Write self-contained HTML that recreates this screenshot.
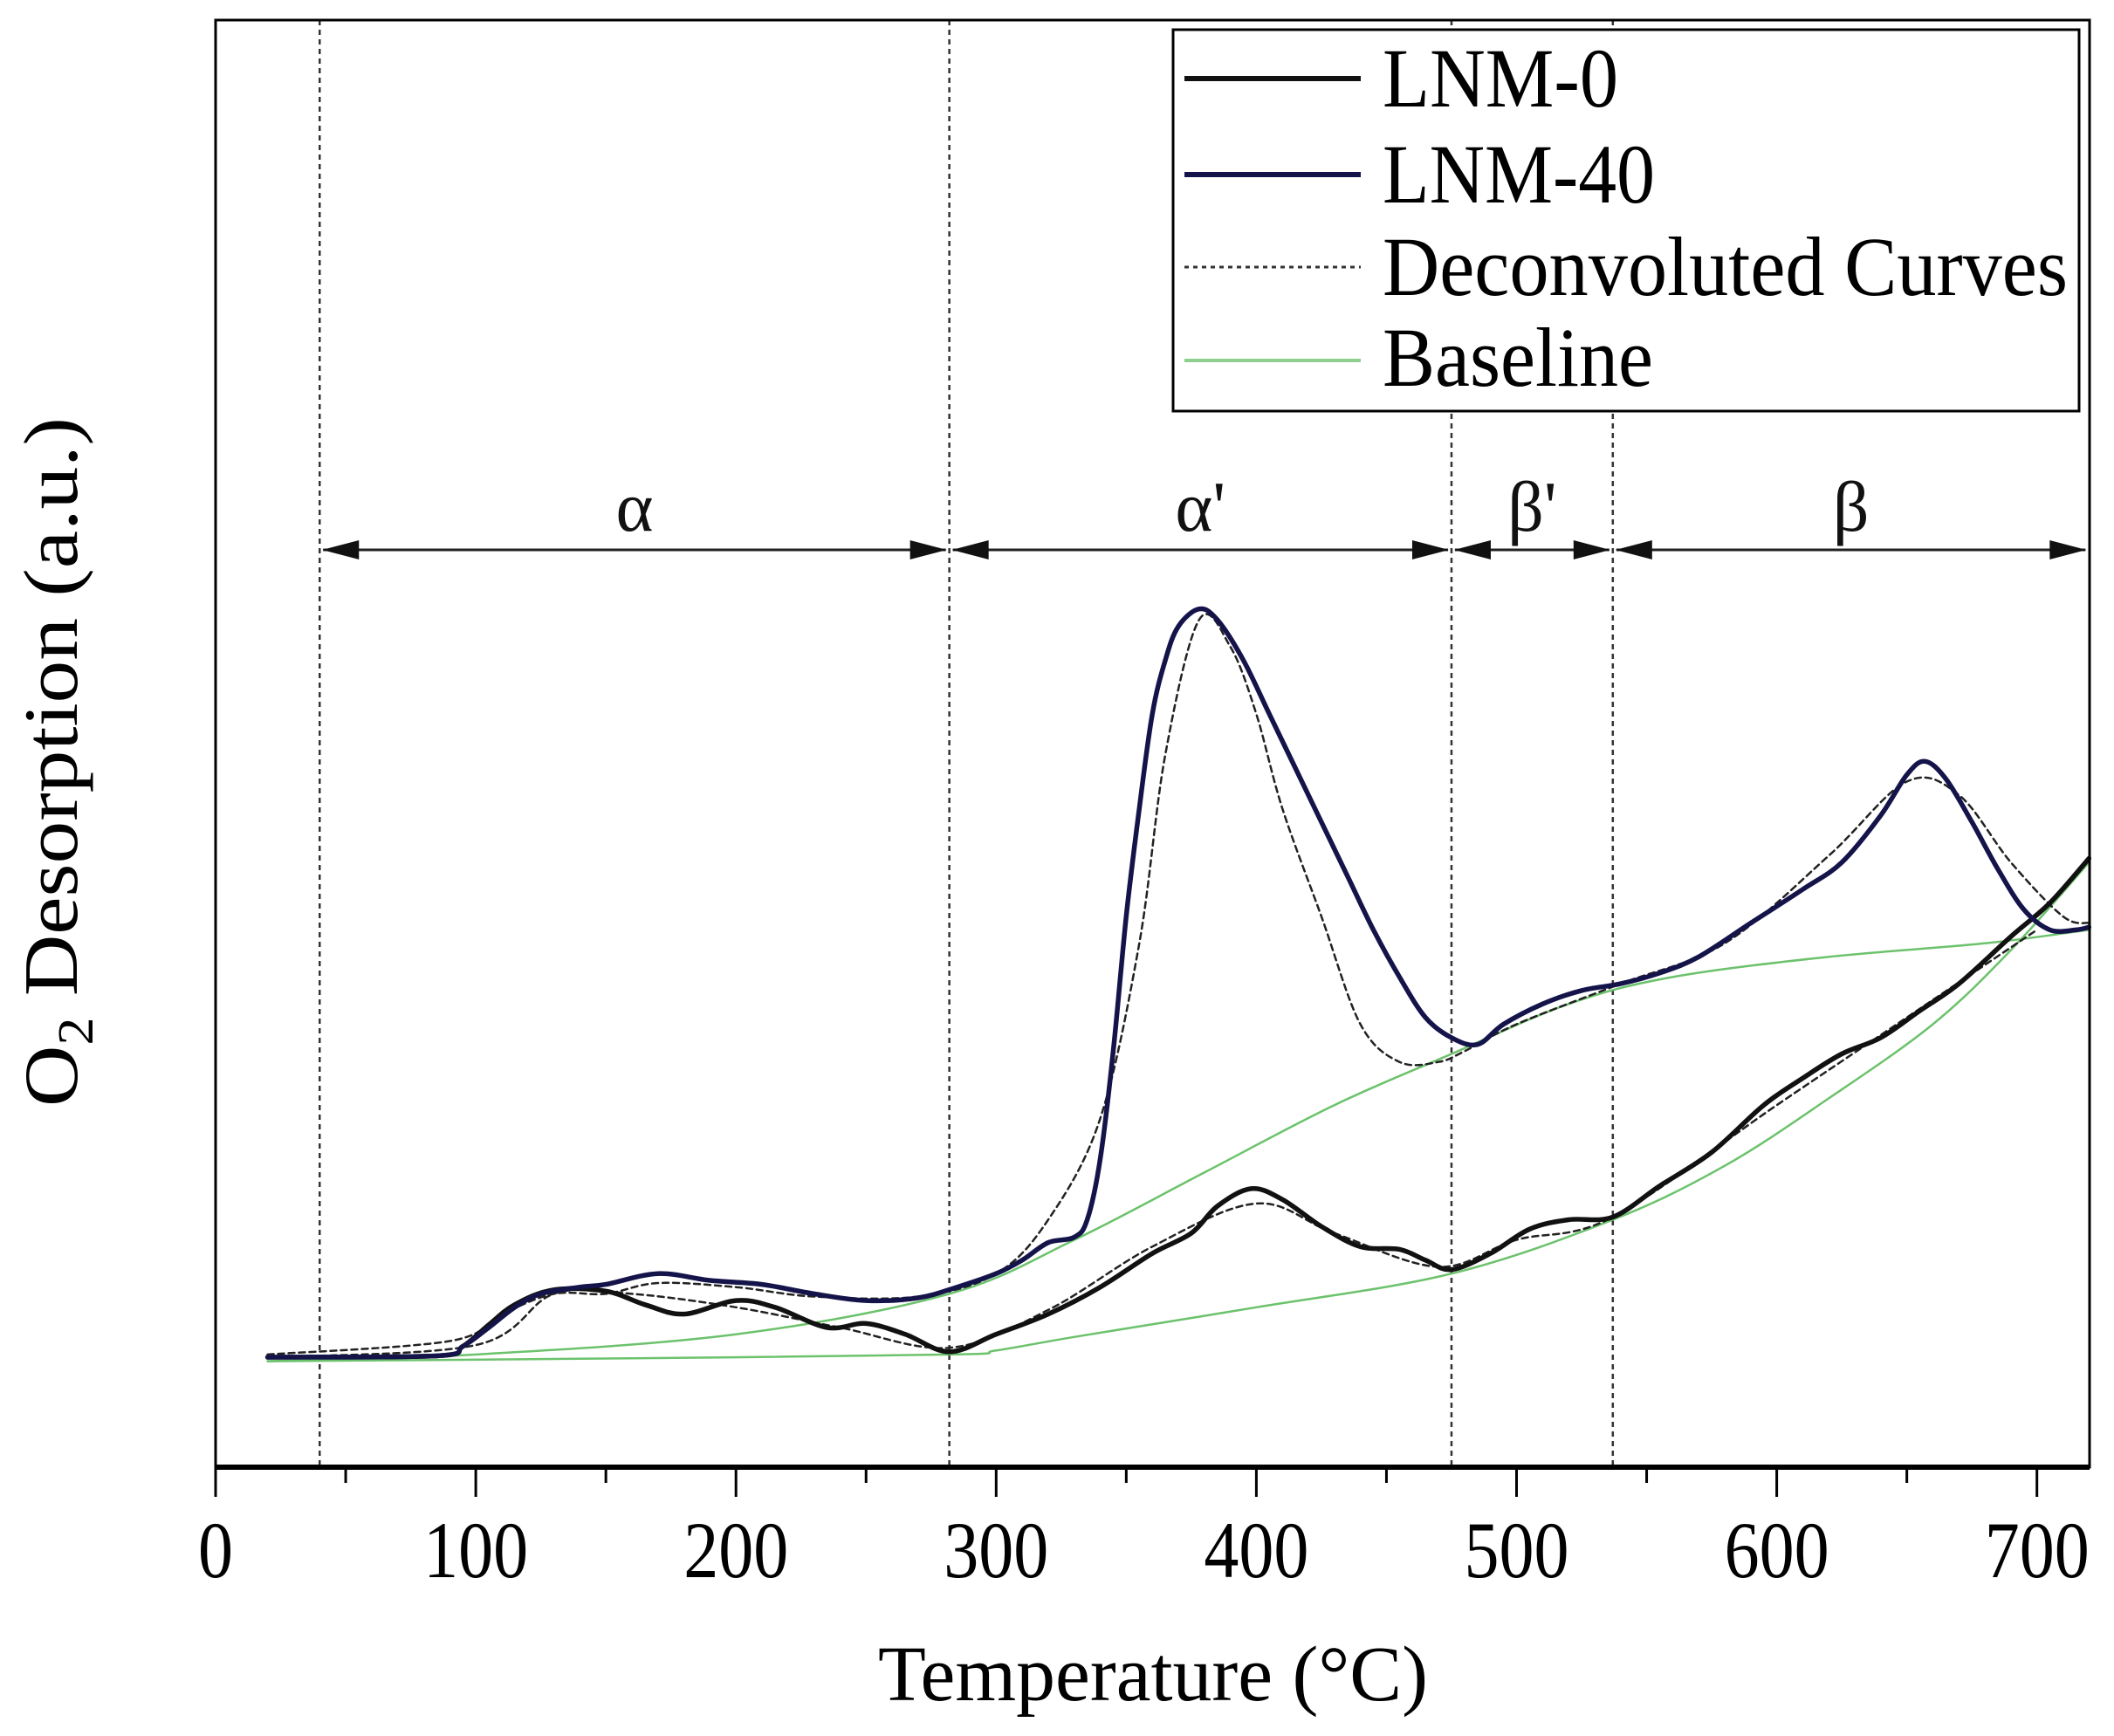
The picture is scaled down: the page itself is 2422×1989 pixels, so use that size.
<!DOCTYPE html>
<html><head><meta charset="utf-8"><style>
html,body{margin:0;padding:0;background:#fff;}
svg{display:block;font-family:"Liberation Serif",serif;}
</style></head><body>
<svg id="chart" width="2422" height="1989" viewBox="0 0 2422 1989" xmlns="http://www.w3.org/2000/svg">
<g id="grid"></g>
<g id="series"></g>
<g id="axes"></g>
<g id="legend"></g>
</svg>
<script>
// ---- data (temperature °C, intensity a.u.) ----
const lnm40T = [20,85,95,105,115,125,140,150,170,190,210,230,250,270,285,300,310,320,330,335,340,345,350,355,360,365,370,378,385,395,405,415,425,435,445,455,465,475,485,495,510,525,540,555,570,590,610,625,640,650,657,665,675,685,695,705,715,720];
const lnm40V = [0,1,8,22,37,47,52,54,62,57,54,47,42,44,52,62,72,85,89,102,147,227,327,407,477,517,542,555,547,517,477,437,397,357,317,282,252,237,232,247,262,272,277,285,297,322,347,367,402,432,442,429,397,362,332,317,317,319];
const lnm0T = [20,85,95,105,115,130,150,165,180,200,215,235,250,265,282,300,320,340,360,375,385,398,410,425,440,455,465,475,490,505,520,537,555,575,595,610,625,640,655,670,690,705,720];
const lnm0V = [0,1,8,24,39,50,49,39,32,42,37,22,25,17,4,17,32,52,77,92,112,125,117,97,82,80,72,65,77,95,102,104,127,152,187,207,225,237,257,277,312,337,370];
const fit40T = [20,90,110,130,150,170,200,230,270,300,320,340,355,365,378,390,400,410,425,440,455,470,480,500,540,580,620,650,670,690,710,720];
const fit40V = [2,12,32,47,47,55,52,45,45,62,102,177,307,447,547,527,477,407,327,247,219,219,227,247,277,307,372,427,417,367,327,322];
const fit0T = [20,100,130,160,200,240,282,320,360,400,430,470,500,537,600,650,700];
const fit0V = [0,9,47,47,37,22,7,35,82,114,92,67,87,104,187,252,317];
const base40T = [20,100,200,282,330,380,430,475,520,560,620,680,720];
const base40V = [-3,2,17,47,87,137,187,225,262,282,297,307,317];
const base0T = [20,150,282,300,330,400,475,537,580,620,660,690,720];
const base0V = [-3,-1,2,5,15,37,62,102,142,192,247,302,367];
const xTicks = [0,100,200,300,400,500,600,700];
const dividers = [40,282,475,537];
const regionLabels = ["α","α'","β'","β"];
const regionBounds = [[40,282],[282,475],[475,537],[537,720]];
const legendLabels = ["LNM-0","LNM-40","Deconvoluted Curves","Baseline"];

// ---- scales ----
const X0=247, XS=2.981, Y0=1555, YS=1.5446;
const PL=247, PR=2394, PT=23, PB=1681;
function sx(t){return X0+t*XS;}
function sy(v){return Y0-v*YS;}
const NS="http://www.w3.org/2000/svg";
function mk(tag,attrs,parent){const e=document.createElementNS(NS,tag);for(const k in attrs)e.setAttribute(k,attrs[k]);parent.appendChild(e);return e;}
function pathD(T,V){
  const p=T.map((t,i)=>[sx(t),sy(V[i])]);
  let d="M"+p[0][0].toFixed(1)+","+p[0][1].toFixed(1);
  for(let i=0;i<p.length-1;i++){
    const p0=p[Math.max(i-1,0)],p1=p[i],p2=p[i+1],p3=p[Math.min(i+2,p.length-1)];
    const c1=[p1[0]+(p2[0]-p0[0])/6,p1[1]+(p2[1]-p0[1])/6];
    const c2=[p2[0]-(p3[0]-p1[0])/6,p2[1]-(p3[1]-p1[1])/6];
    d+=" C"+c1[0].toFixed(1)+","+c1[1].toFixed(1)+" "+c2[0].toFixed(1)+","+c2[1].toFixed(1)+" "+p2[0].toFixed(1)+","+p2[1].toFixed(1);
  }
  return d;
}
const grid=document.getElementById('grid'),series=document.getElementById('series'),axes=document.getElementById('axes'),legend=document.getElementById('legend');

// dividers
dividers.forEach(t=>{
  const l=mk('line',{x1:sx(t),x2:sx(t),y1:PT,y2:PB,stroke:'#333','stroke-width':2.5,'stroke-dasharray':'6,5'},grid);
  
  
});
// region arrows
const AY=630;
regionBounds.forEach((b,i)=>{
  const g=mk('g',{},grid);
  
  
  const a=sx(b[0]),c=sx(b[1]);
  mk('line',{x1:a+4,x2:c-4,y1:AY,y2:AY,stroke:'#222','stroke-width':3},g);
  mk('polygon',{points:`${a+3},${AY} ${a+45},${AY-11} ${a+45},${AY+11}`,fill:'#111'},g);
  mk('polygon',{points:`${c-3},${AY} ${c-45},${AY-11} ${c-45},${AY+11}`,fill:'#111'},g);
  const tx=mk('text',{x:(a+c)/2,y:AY-22,'text-anchor':'middle','font-size':82,fill:'#111'},g);
  tx.textContent=regionLabels[i];
  
  
});

// series
function drawSeries(T,V,style,name){
  const p=mk('path',Object.assign({d:pathD(T,V),fill:'none','stroke-linejoin':'round','stroke-linecap':'round'},style),series);
  
  
}
drawSeries(base40T,base40V,{stroke:'#6cc26c','stroke-width':2.5},'baseline-lnm-40');
drawSeries(base0T,base0V,{stroke:'#6cc26c','stroke-width':2.5},'baseline-lnm-0');
drawSeries(fit40T,fit40V,{stroke:'#222','stroke-width':2.5,'stroke-dasharray':'7,5'},'deconvoluted-lnm-40');
drawSeries(fit0T,fit0V,{stroke:'#222','stroke-width':2.5,'stroke-dasharray':'7,5'},'deconvoluted-lnm-0');
drawSeries(lnm0T,lnm0V,{stroke:'#111','stroke-width':5.5},'line-lnm-0');
drawSeries(lnm40T,lnm40V,{stroke:'#14144a','stroke-width':5.5},'line-lnm-40');

// axes frame
const fr=mk('rect',{x:PL,y:PT,width:PR-PL,height:PB-PT,fill:'none',stroke:'#000','stroke-width':3},axes);


const xa=mk('line',{x1:PL,x2:PR,y1:PB,y2:PB,stroke:'#000','stroke-width':6},axes);


for(let t=0;t<=700;t+=50){
  const major=t%100===0;
  const tk=mk('line',{x1:sx(t),x2:sx(t),y1:PB,y2:PB+(major?34:18),stroke:'#000','stroke-width':3},axes);
  
  
}
xTicks.forEach(t=>{
  const s=String(t);
  const tx=mk('text',{x:sx(t),y:1807,'text-anchor':'middle','font-size':92,fill:'#000',textLength:s.length*40,lengthAdjust:'spacingAndGlyphs'},axes);
  tx.textContent=s;
  
  
});
const xt=mk('text',{x:1321,y:1948,'text-anchor':'middle','font-size':90,fill:'#000',textLength:630,lengthAdjust:'spacingAndGlyphs'},axes);
xt.textContent="Temperature (°C)";


const yt=mk('text',{x:0,y:0,'text-anchor':'middle','font-size':88,fill:'#000',transform:'translate(88,873) rotate(-90)',textLength:790,lengthAdjust:'spacingAndGlyphs'},axes);
yt.innerHTML='O<tspan font-size="58" dy="18">2</tspan><tspan dy="-18"> Desorption (a.u.)</tspan>';



// legend
const lb=mk('rect',{x:1344,y:34,width:1038,height:437,fill:'#fff',stroke:'#000','stroke-width':3},legend);


const lstyles=[{stroke:'#111','stroke-width':6},{stroke:'#14144a','stroke-width':6},{stroke:'#333','stroke-width':3,'stroke-dasharray':'5,5'},{stroke:'#8fd08f','stroke-width':4}];
const lineY=[90,200,306,413], textY=[122,232,338,442], textW=[270,312,785,310];
legendLabels.forEach((s,i)=>{
  const g=mk('g',{},legend);
  
  
  mk('line',Object.assign({x1:1357,x2:1559,y1:lineY[i],y2:lineY[i]},lstyles[i]),g);
  const tx=mk('text',{x:1584,y:textY[i],'font-size':96,fill:'#000',textLength:textW[i],lengthAdjust:'spacingAndGlyphs'},g);
  tx.textContent=s;
});
</script>
</body></html>
